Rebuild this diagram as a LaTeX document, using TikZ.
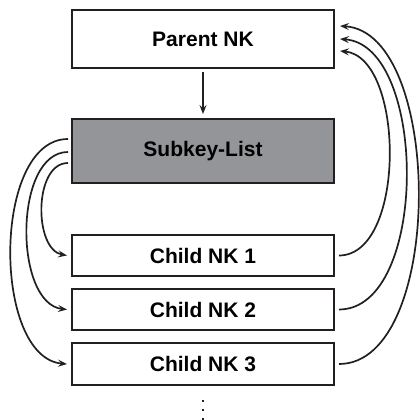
\documentclass[tikz,border=0pt]{standalone}
\usepackage{fontspec}
\setmainfont{Liberation Sans}
\usetikzlibrary{arrows.meta}
\definecolor{ink}{HTML}{231F20}
\definecolor{boxgray}{HTML}{939598}
\begin{document}
\begin{tikzpicture}[x=1pt,y=-1pt,
  box/.style={draw=ink,line width=2pt,fill=white,minimum width=262pt,inner sep=0pt,
    font=\fontsize{21}{24}\selectfont\bfseries,text=black},
  link/.style={draw=ink,line width=1.7pt,-{Stealth[length=9pt,width=7pt,inset=3.5pt]}}]
\useasboundingbox (0,0) rectangle (420,420);
\node[box,minimum height=58pt] (parent) at (203,39) {Parent NK};
\node[box,minimum height=64pt,fill=boxgray] (sub) at (203,151) {Subkey-List};
\node[box,minimum height=41pt] (c1) at (203,255.5) {Child NK 1};
\node[box,minimum height=41pt] (c2) at (203,309.5) {Child NK 2};
\node[box,minimum height=42pt] (c3) at (203,364) {Child NK 3};
\draw[link,shorten <=3pt,shorten >=4pt] (parent.south) -- (sub.north);
% left arcs
\draw[link] ([xshift=-3pt,yshift=12pt]sub.west) .. controls +(-76,0) and +(-75,-6) .. ([xshift=-4pt]c3.west);
\draw[link] ([xshift=-3pt,yshift=-1pt]sub.west) .. controls +(-54.5,0) and +(-53.5,-6) .. ([xshift=-4pt]c2.west);
\draw[link] ([xshift=-3pt,yshift=-12pt]sub.west) .. controls +(-34.5,0) and +(-33.5,-6) .. ([xshift=-4pt]c1.west);
% right arcs
\draw[link] ([xshift=4pt]c1.east) .. controls +(67.5,0) and +(65,6) .. ([xshift=5pt,yshift=-12pt]parent.east);
\draw[link] ([xshift=4pt]c2.east) .. controls +(90,0) and +(88,6) .. ([xshift=5pt]parent.east);
\draw[link] ([xshift=4pt]c3.east) .. controls +(106,0) and +(104,6) .. ([xshift=5pt,yshift=13pt]parent.east);
% continuation dots
\foreach \yy in {401,410,419} \fill[ink] (201.7,\yy-1.3) rectangle (204.3,\yy+1.3);
\end{tikzpicture}
\end{document}
